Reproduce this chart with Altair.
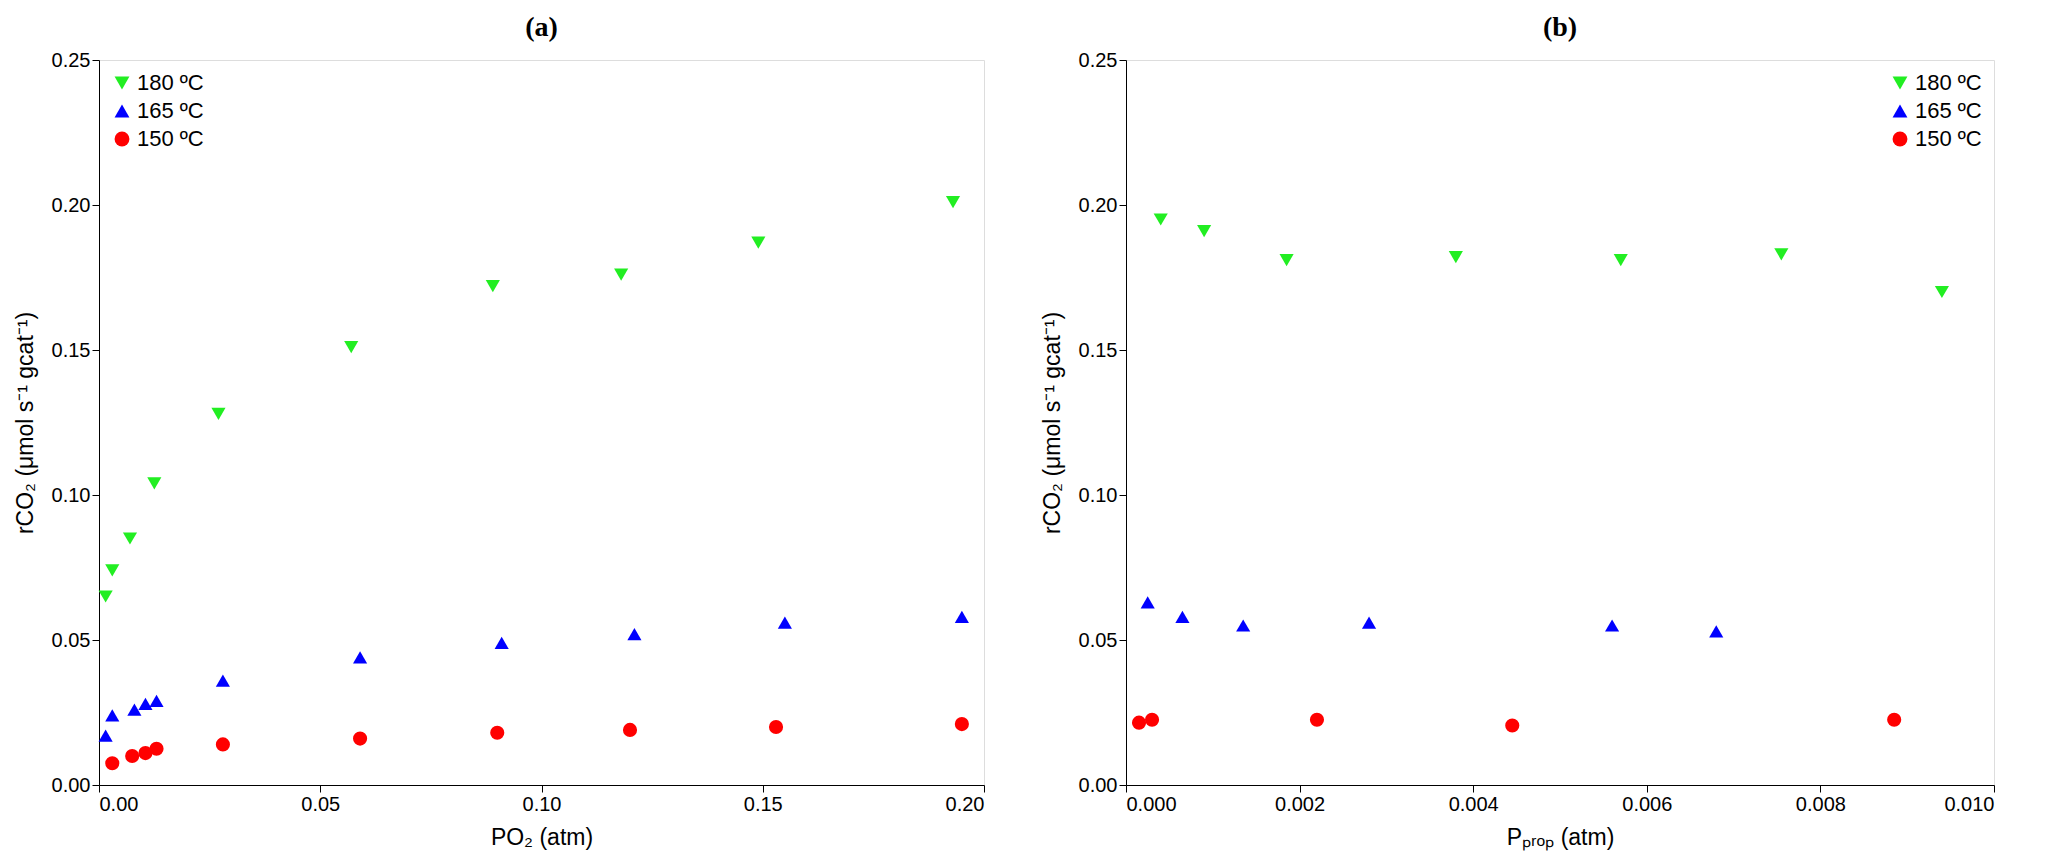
import altair as alt
import pandas as pd

series = ["180 ºC", "165 ºC", "150 ºC"]
a_x180 = [0.0015,0.003,0.007,0.0125,0.027,0.057,0.089,0.118,0.149,0.193]
a_y180 = [0.065,0.074,0.085,0.104,0.128,0.151,0.172,0.176,0.187,0.201]
a_x165 = [0.0015,0.003,0.008,0.0105,0.013,0.028,0.059,0.091,0.121,0.155,0.195]
a_y165 = [0.017,0.024,0.026,0.028,0.029,0.036,0.044,0.049,0.052,0.056,0.058]
a_x150 = [0.003,0.0075,0.0105,0.013,0.028,0.059,0.090,0.120,0.153,0.195]
a_y150 = [0.0075,0.010,0.011,0.0125,0.014,0.016,0.018,0.019,0.020,0.021]
b_x180 = [0.0004,0.0009,0.00185,0.0038,0.0057,0.00755,0.0094]
b_y180 = [0.195,0.191,0.181,0.182,0.181,0.183,0.170]
b_x165 = [0.00025,0.00065,0.00135,0.0028,0.0056,0.0068]
b_y165 = [0.063,0.058,0.055,0.056,0.055,0.053]
b_x150 = [0.00015,0.0003,0.0022,0.00445,0.00885]
b_y150 = [0.0215,0.0225,0.0225,0.0205,0.0225]

def df(xs, ys):
    rows = []
    for s, x, y in zip(series, xs, ys):
        rows += [{"s": s, "x": a, "y": b} for a, b in zip(x, y)]
    return pd.DataFrame(rows)

da = df([a_x180, a_x165, a_x150], [a_y180, a_y165, a_y150])
db = df([b_x180, b_x165, b_x150], [b_y180, b_y165, b_y150])

FONT = "Liberation Sans"
color = alt.Scale(domain=series, range=["#22ee22", "#0000ff", "#ff0000"])
shape = alt.Scale(domain=series, range=["triangle-down", "triangle-up", "circle"])

def panel(d, xmax, xfmt, xtitle, title, legend_orient, w):
    ax = dict(labelFont=FONT, titleFont=FONT, labelFontSize=20, titleFontSize=23,
              titleFontWeight="normal", tickColor="black", domainColor="black",
              labelColor="black", titleColor="black", grid=False, tickSize=7)
    leg = alt.Legend(title=None, orient=legend_orient, labelFont=FONT, labelFontSize=22,
                     symbolSize=220, symbolStrokeWidth=0, rowPadding=6, labelColor="black",
                     offset=12)
    return alt.Chart(d).mark_point(filled=True, size=200, opacity=1).encode(
        x=alt.X("x:Q", scale=alt.Scale(domain=[0, xmax], nice=False, padding=0),
                axis=alt.Axis(format=xfmt, tickCount=5, title=xtitle, titlePadding=12, **ax)),
        y=alt.Y("y:Q", scale=alt.Scale(domain=[0, 0.25], nice=False, padding=0),
                axis=alt.Axis(format=".2f", values=[0,0.05,0.1,0.15,0.2,0.25],
                              title="rCO₂ (μmol s⁻¹ gcat⁻¹)", titlePadding=14, **ax)),
        color=alt.Color("s:N", scale=color, sort=series, legend=leg),
        shape=alt.Shape("s:N", scale=shape, sort=series, legend=leg),
    ).properties(width=w, height=725,
                 title=alt.TitleParams(title, font="Liberation Serif", fontSize=28,
                                       fontWeight="bold", color="black", offset=8))

pa = panel(da, 0.2, ".2f", "PO₂ (atm)", "(a)", "top-left", 885)
pb = panel(db, 0.01, ".3f", "Pₚᵣₒₚ (atm)", "(b)", "top-right", 868)

chart = alt.hconcat(pa, pb, spacing=55).configure_view(
    stroke="#000000", strokeWidth=1.5, strokeOpacity=1).configure(background="white")
chart.save("out.html", embed_options={"renderer": "svg", "actions": False})
